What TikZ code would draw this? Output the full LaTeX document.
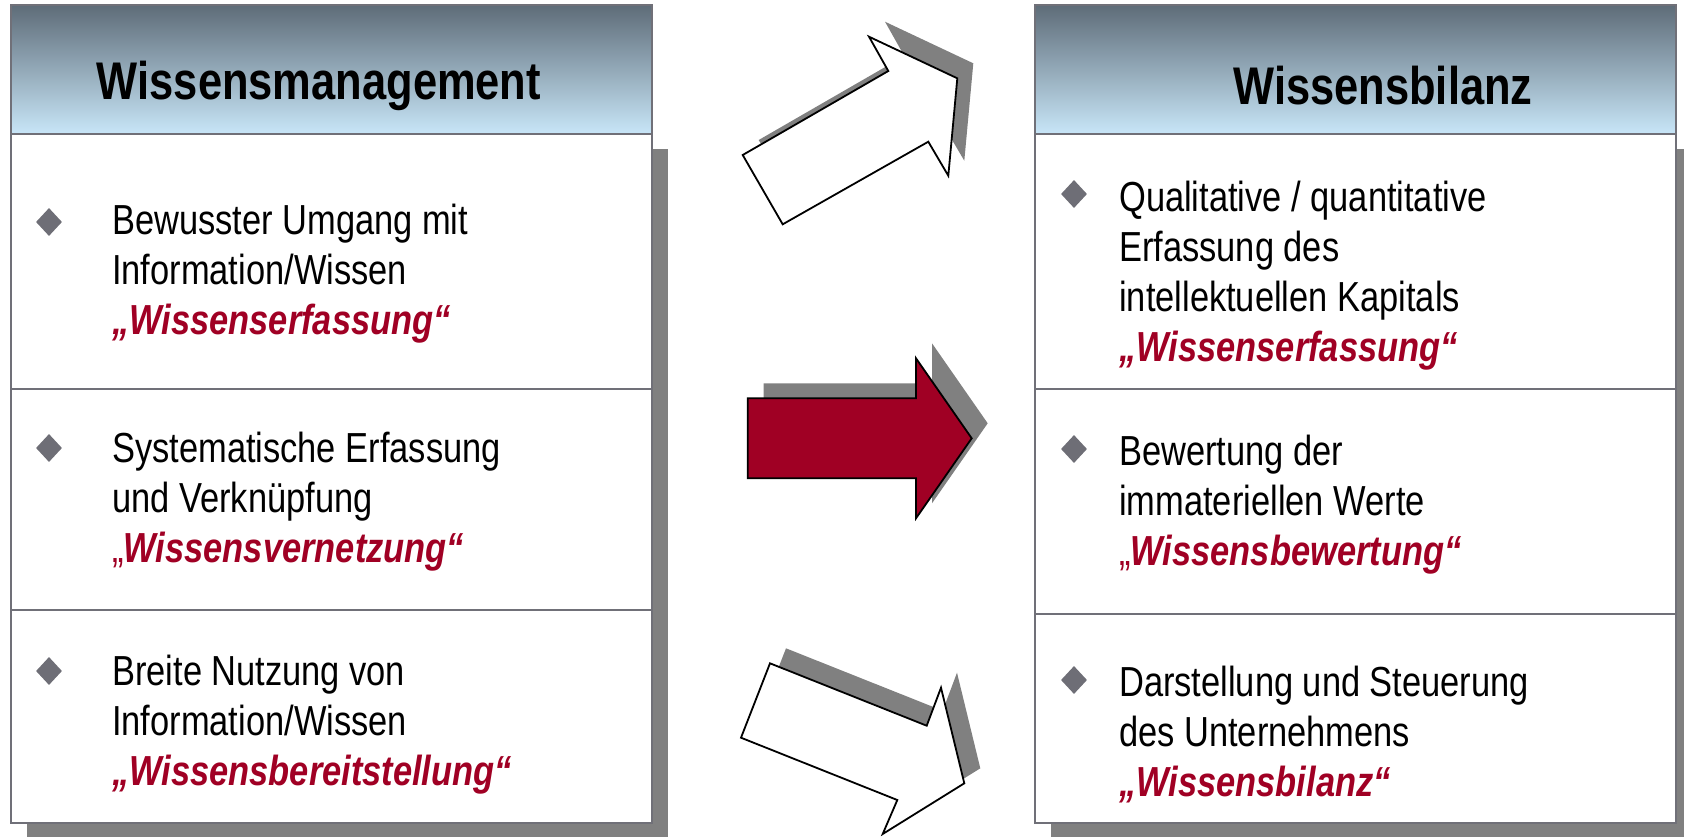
\documentclass[tikz,border=0pt]{standalone}
\usepackage{fontspec}
\setmainfont{Liberation Sans}[FakeStretch=0.82]
\usetikzlibrary{shapes.geometric,shadows}

\definecolor{wbred}{RGB}{160,0,36}
\definecolor{rimgray}{RGB}{112,112,120}
\definecolor{shadegray}{RGB}{128,128,128}
\definecolor{headtop}{RGB}{94,108,120}
\definecolor{headbot}{RGB}{200,230,248}
\definecolor{dotgray}{RGB}{110,110,118}

\newcommand{\keyword}[1]{{\color{wbred}\bfseries\itshape #1}}

\begin{document}
\begin{tikzpicture}[x=1pt, y=-1pt,
  rim/.style={draw=rimgray, line width=2.5pt},
  head/.style={font=\fontsize{53}{60}\selectfont\bfseries},
  item/.style={anchor=base west, inner sep=0pt, align=left, font=\fontsize{42}{50}\selectfont},
  dot/.style={diamond, fill=dotgray, inner sep=0pt, minimum width=26pt, minimum height=28pt},
  blockarrow/.style={draw=black, line width=1.8pt, line join=miter,
    general shadow={fill=shadegray, shadow xshift=16pt, shadow yshift=15pt}}]
\useasboundingbox (0,0) rectangle (1684,836);

% box shadows
\fill[shadegray] (27,149) rectangle (668,838);
\fill[shadegray] (1051,149) rectangle (1692,838);

% left box
\fill[white] (11,134) rectangle (652,823);
\shade[top color=headtop, bottom color=headbot] (11,5) rectangle (652,134);
\draw[rim] (11,5) rectangle (652,823);
\draw[rim] (11,134) -- (652,134);
\draw[rim] (11,389) -- (652,389);
\draw[rim] (11,610) -- (652,610);

% right box
\fill[white] (1035,134) rectangle (1676,823);
\shade[top color=headtop, bottom color=headbot] (1035,5) rectangle (1676,134);
\draw[rim] (1035,5) rectangle (1676,823);
\draw[rim] (1035,134) -- (1676,134);
\draw[rim] (1035,389) -- (1676,389);
\draw[rim] (1035,614) -- (1676,614);

% titles
\node[head] (wm) at (319,86) {Wissensmanagement};
\node[head] (wb) at (1383,86) {Wissensbilanz};

% left items (anchored on the last line)
\path
(49,222) node[dot] (d-wm1) {}
(49,448) node[dot] (d-wm2) {}
(49,671) node[dot] (d-wm3) {}
(112,334) node[item] (wm1) {Bewusster Umgang mit\\Information/Wissen\\\keyword{„Wissenserfassung“}}
(112,562) node[item] (wm2) {Systematische Erfassung\\und Verknüpfung\\{\color{wbred}„}\keyword{Wissensvernetzung“}}
(112,785) node[item] (wm3) {Breite Nutzung von\\Information/Wissen\\\keyword{„Wissensbereitstellung“}};

% right items
\path
(1074,194) node[dot] (d-wb1) {}
(1074,449) node[dot] (d-wb2) {}
(1074,680) node[dot] (d-wb3) {}
(1119,361) node[item] (wb1) {Qualitative / quantitative\\Erfassung des\\intellektuellen Kapitals\\\keyword{„Wissenserfassung“}}
(1119,565) node[item] (wb2) {Bewertung der\\immateriellen Werte\\{\color{wbred}„}\keyword{Wissensbewertung“}}
(1119,796) node[item] (wb3) {Darstellung und Steuerung\\des Unternehmens\\\keyword{„Wissensbilanz“}};

% arrows
\draw[blockarrow, fill=white] (742.7,155) -- (782.7,224.3) -- (928.3,141.7) -- (948.3,175.7)
  -- (957.3,78.3) -- (869,36.7) -- (888.3,71) -- cycle;
\draw[blockarrow, fill=wbred] (747.7,398.3) -- (747.7,478.3) -- (916,478.3) -- (916,518.3)
  -- (971.7,438.3) -- (916,358.3) -- (916,398.3) -- cycle;
\draw[blockarrow, fill=white] (770,663.3) -- (741,737.7) -- (897.3,800) -- (882.7,834)
  -- (964.3,783.3) -- (941,687.7) -- (926.7,725.7) -- cycle;
\end{tikzpicture}
\end{document}
